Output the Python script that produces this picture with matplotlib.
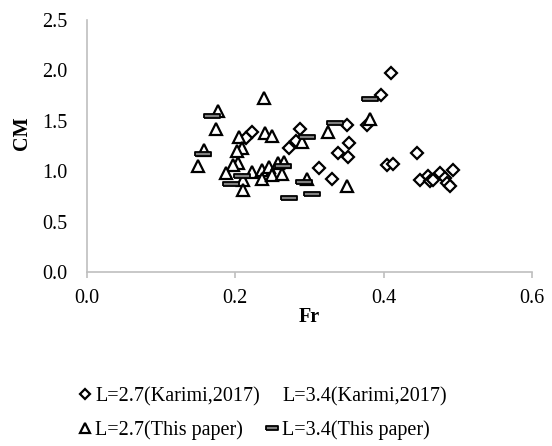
import matplotlib
matplotlib.use("Agg")
import matplotlib.pyplot as plt

plt.rcParams['font.family'] = ['Liberation Serif', 'DejaVu Serif']

# Karimi, 2017 - L=2.7
karimi27_fr = [0.410, 0.396, 0.377, 0.351, 0.353, 0.339, 0.352, 0.313, 0.330,
               0.287, 0.282, 0.272, 0.222, 0.215, 0.405, 0.413, 0.445, 0.449,
               0.460, 0.463, 0.467, 0.476, 0.483, 0.485, 0.490, 0.494]
karimi27_cm = [1.97, 1.76, 1.46, 1.46, 1.28, 1.18, 1.14, 1.03, 0.92,
               1.42, 1.30, 1.23, 1.39, 1.33, 1.06, 1.07, 1.18, 0.91,
               0.95, 0.90, 0.91, 0.98, 0.93, 0.88, 0.85, 1.01]

# Karimi, 2017 - L=3.4 (not visible in the chart)
karimi34_fr = []
karimi34_cm = []

# This paper - L=2.7
paper27_fr = [0.239, 0.176, 0.174, 0.158, 0.150, 0.205, 0.209, 0.202, 0.204,
              0.197, 0.188, 0.211, 0.211, 0.222, 0.236, 0.245, 0.236, 0.249,
              0.240, 0.250, 0.258, 0.265, 0.263, 0.290, 0.297, 0.325, 0.350,
              0.382]
paper27_cm = [1.73, 1.60, 1.42, 1.21, 1.05, 1.34, 1.23, 1.20, 1.08,
              1.06, 0.98, 0.91, 0.81, 0.99, 1.01, 1.04, 0.92, 0.96,
              1.38, 1.35, 1.08, 1.09, 0.97, 1.29, 0.92, 1.39, 0.85,
              1.52]

# This paper - L=3.4
paper34_fr = [0.382, 0.334, 0.296, 0.292, 0.304, 0.273, 0.264, 0.169, 0.157,
              0.194, 0.209]
paper34_cm = [1.72, 1.48, 1.34, 0.89, 0.77, 0.73, 1.05, 1.55, 1.17,
              0.87, 0.95]

bar_marker = [(-1, -0.27), (1, -0.27), (1, 0.27), (-1, 0.27), (-1, -0.27)]

fig = plt.figure(figsize=(5.52, 4.46), dpi=100)
ax = fig.add_axes([87 / 552, 1 - 272 / 446, 445 / 552, 252 / 446])

h1, = ax.plot(karimi27_fr, karimi27_cm, ls='none', marker='D', ms=6,
              mfc='white', mec='black', mew=1.6, label='L=2.7(Karimi,2017)')
h2, = ax.plot(karimi34_fr, karimi34_cm, ls='none', marker='None',
              label='L=3.4(Karimi,2017)')
h3, = ax.plot(paper27_fr, paper27_cm, ls='none', marker='^', ms=8,
              mfc='white', mec='black', mew=1.6, label='L=2.7(This paper)')
h4, = ax.plot(paper34_fr, paper34_cm, ls='none', marker=bar_marker, ms=11,
              mfc='#7f7f7f', mec='black', mew=1.3, label='L=3.4(This paper)')

ax.set_xlim(0, 0.6)
ax.set_ylim(0, 2.5)
ax.set_xticks([0.0, 0.2, 0.4, 0.6])
ax.set_yticks([0.0, 0.5, 1.0, 1.5, 2.0, 2.5])
ax.xaxis.set_major_formatter(matplotlib.ticker.FormatStrFormatter('%.1f'))
ax.yaxis.set_major_formatter(matplotlib.ticker.FormatStrFormatter('%.1f'))

for side in ['top', 'right']:
    ax.spines[side].set_visible(False)
for side in ['left', 'bottom']:
    ax.spines[side].set_color('#bfbfbf')
    ax.spines[side].set_linewidth(1.2)

ax.tick_params(axis='x', length=4, width=1.2, color='#bfbfbf', pad=8,
               labelsize=14.5)
ax.tick_params(axis='y', length=0, pad=14, labelsize=14.5)

ax.set_xlabel('Fr', fontsize=14.5, fontweight='bold')
ax.set_ylabel('CM', fontsize=14.5, fontweight='bold')
ax.xaxis.set_label_coords(0.5, -0.14)
ax.yaxis.set_label_coords(-0.123, 0.55)

fig.legend([h1, h3, h2, h4],
           [h1.get_label(), h3.get_label(), h2.get_label(), h4.get_label()],
           ncol=2, loc='upper left', bbox_to_anchor=(80 / 552, 1 - 387 / 446),
           borderaxespad=0, borderpad=0,
           frameon=False, fontsize=14.5, handlelength=0.5, handletextpad=0.25,
           columnspacing=0.35, labelspacing=0.68, markerscale=0.85)

fig.savefig('out.png', dpi=100)
